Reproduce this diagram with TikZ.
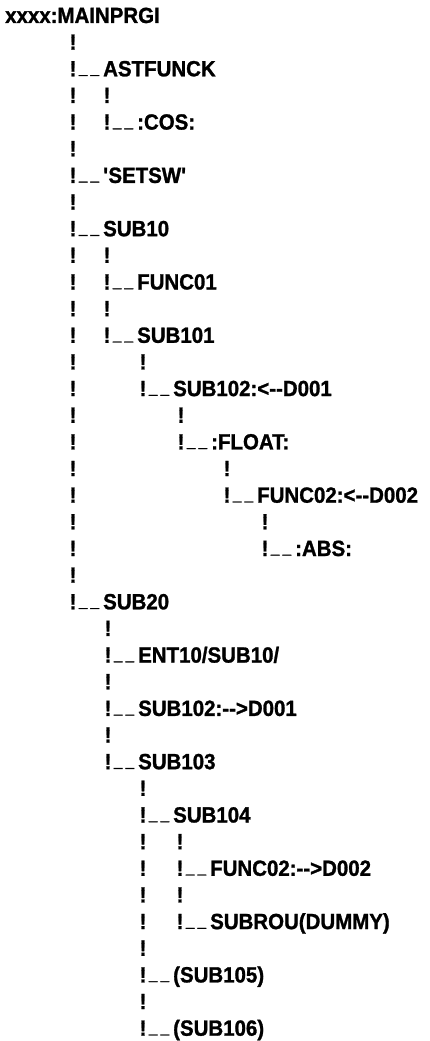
\documentclass[tikz,border=0pt]{standalone}
\usepackage{graphicx}
\usepackage{fontspec}
\newfontfamily\listfont{Liberation Sans}[FakeStretch=0.93,FakeBold=1.2]
\begin{document}
\begin{tikzpicture}[x=1pt,y=-1pt,
  txt/.style={font=\listfont\bfseries\fontsize{22}{22}\selectfont, inner sep=0pt, anchor=base west},
  bar/.style={font=\listfont\bfseries\fontsize{22}{22}\selectfont, inner sep=0pt, anchor=base}]
\useasboundingbox (0,0) rectangle (429,1041);
% baseline of listing row #1
\newcommand\rowy[1]{{23+26.65*#1}}
% a vertical run of '!' marks in one column
\newcommand\barrun[3]{\foreach \r in {#2,...,#3} {\node[bar] at (#1,\rowy{\r}) {!};}}
% a branch: two short underscores and the entry name
\newcommand\uscore{\scalebox{0.75}[1]{\_}}
\newcommand\leaf[4]{%
  \node[bar] (#1-u) at (#2+16,\rowy{#3}) {\raisebox{3pt}{\uscore\kern3pt\uscore}};
  \node[txt] (#1) at (#2+30,\rowy{#3}) {#4};}

% root
\node[txt] (root) at (5,\rowy{0}) {xxxx:MAINPRGI};

% columns of '!'
\barrun{73}{1}{22}
\barrun{107}{3}{4}
\barrun{107}{9}{12}
\barrun{143}{13}{14}
\barrun{181}{15}{16}
\barrun{227}{17}{18}
\barrun{265}{19}{20}
\barrun{108}{23}{28}
\barrun{143}{29}{38}
\barrun{180}{31}{34}

% entries
\leaf{astfunck}{73}{2}{ASTFUNCK}
\leaf{cos}{107}{4}{:COS:}
\leaf{setsw}{73}{6}{\textquotesingle SETSW\textquotesingle}
\leaf{sub10}{73}{8}{SUB10}
\leaf{func01}{107}{10}{FUNC01}
\leaf{sub101}{107}{12}{SUB101}
\leaf{sub102a}{143}{14}{SUB102:<-{}-D001}
\leaf{float}{181}{16}{:FLOAT:}
\leaf{func02a}{227}{18}{FUNC02:<-{}-D002}
\leaf{abs}{265}{20}{:ABS:}
\leaf{sub20}{73}{22}{SUB20}
\leaf{ent10}{108}{24}{ENT10/SUB10/}
\leaf{sub102b}{108}{26}{SUB102:-{}->D001}
\leaf{sub103}{108}{28}{SUB103}
\leaf{sub104}{143}{30}{SUB104}
\leaf{func02b}{180}{32}{FUNC02:-{}->D002}
\leaf{subrou}{180}{34}{SUBROU(DUMMY)}
\leaf{sub105}{143}{36}{(SUB105)}
\leaf{sub106}{143}{38}{(SUB106)}
\end{tikzpicture}
\end{document}
